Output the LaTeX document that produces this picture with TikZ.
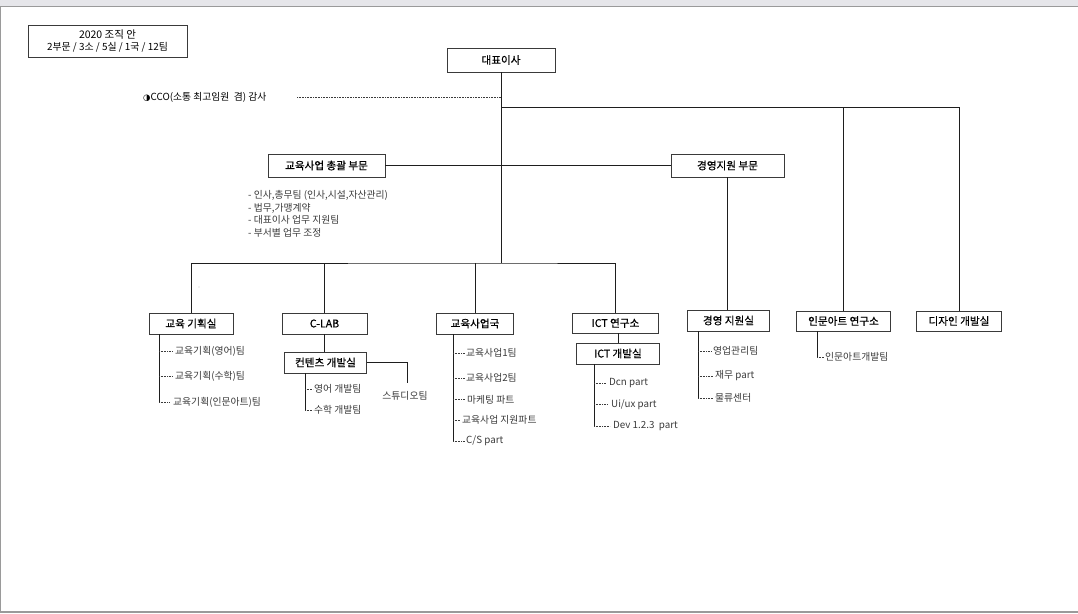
\documentclass[tikz,border=0pt]{standalone}
\usepackage{fontspec}
\setmainfont{Noto Sans CJK KR}
\newfontfamily\boxfnt[RawFeature={embolden=0.6}]{Noto Sans CJK KR}
\newfontfamily\symfnt{DejaVu Sans}
\newcommand\myfs{\fontsize{9.8}{11}\selectfont}
\newcommand\bxfs{\boxfnt\fontsize{10.6}{12}\selectfont}
\definecolor{boxc}{HTML}{3A3A3A}
\definecolor{linec}{HTML}{1E1E1E}
\definecolor{itemc}{HTML}{3A3A3A}
\definecolor{barc}{HTML}{E6E6EA}
\definecolor{framec}{HTML}{9A9A9A}
\begin{document}
\begin{tikzpicture}[x=1pt,y=-1pt,
  box/.style={draw=boxc, line width=0.8pt, inner sep=0pt, minimum height=21pt, font=\bxfs, text=black, fill=white},
  item/.style={anchor=west, inner sep=0pt, font=\myfs, text=itemc},
  conn/.style={draw=linec, line width=0.8pt},
  dots/.style={draw=itemc, line width=0.7pt, dash pattern=on 0.7pt off 0.9pt, shorten >=3pt}]
\useasboundingbox (0,0) rectangle (1078,613);
% frame
\fill[barc] (0,0) rectangle (1078,6);
\draw[framec, line width=1.2pt] (0,6.5) -- (1078,6.5);
\draw[framec, line width=1.2pt] (0.6,6) -- (0.6,613);
\draw[framec, line width=1.5pt] (0,611.8) -- (1078,611.8);

% top
\node[box, minimum width=159pt, minimum height=32pt, align=center, font=\fontsize{9.9}{12}\selectfont] (title) at (107.5,41) {{\fontsize{10.5}{12}\selectfont 2020 조직 안}\\2부문 / 3소 / 5실 / 1국 / 12팀};
\node[box, minimum width=108pt, minimum height=24pt] (ceo) at (501,60) {대표이사};
\node[item, text=black] (cco) at (143,97.5) {{\symfnt\fontsize{8.5}{9}\selectfont ◑}CCO(소통 최고임원\ \ 겸) 감사};
\coordinate (ccod) at (297,97);
\coordinate (j1) at (501,107);
\coordinate (j2) at (501,263);

\node[box, minimum width=117pt, minimum height=23pt] (edu) at (326.5,165.5) {교육사업 총괄 부문};
\node[box, minimum width=113pt, minimum height=23pt] (mgmt) at (727.5,165.5) {경영지원 부문};
\node[item, align=left, font=\fontsize{9.8}{12.6}\selectfont] (eduitems) at (248,214) {- 인사,총무팀 (인사,시설,자산관리)\\- 법무,가맹계약\\- 대표이사 업무 지원팀\\- 부서별 업무 조정};

% level 2 boxes
\node[box, minimum width=84pt] (plan) at (191,323.5) {교육 기획실};
\node[box, minimum width=85pt] (clab) at (324.5,323.5) {C-LAB};
\node[box, minimum width=77pt] (bureau) at (475,323.5) {교육사업국};
\node[box, minimum width=86pt, minimum height=20pt] (ictlab) at (615.5,323) {ICT 연구소};
\node[box, minimum width=82pt] (mgsup) at (728.5,320.5) {경영 지원실};
\node[box, minimum width=94pt, minimum height=20pt] (hum) at (843.5,321) {인문아트 연구소};
\node[box, minimum width=85pt, minimum height=20pt] (design) at (959,321) {디자인 개발실};
\node[box, minimum width=82pt] (content) at (325.5,362.5) {컨텐츠 개발실};
\node[box, minimum width=83pt] (ictdev) at (618,353.5) {ICT 개발실};

% main connectors
\draw[conn] (ceo.south) -- (j2);
\draw[dots, shorten >=0pt] (ccod) -- (ccod -| ceo.south);
\draw[conn] (j1) -| (design.north);
\draw[conn] (hum.north) -- (hum.north |- j1);
\draw[conn] (edu.east) -- (mgmt.west);
\draw[conn] (mgmt.south) -- (mgmt.south |- mgsup.north);
\draw[conn] (plan.north) |- (j2) -| (ictlab.north);
\draw[conn] (clab.north) -- (clab.north |- j2);
\draw[conn] (bureau.north) -- (bureau.north |- j2);
\draw[conn] (clab.south) -- (clab.south |- content.north);
\draw[conn] (ictlab.south -| ictdev.north) -- (ictdev.north);
\coordinate (stu) at (407,383);
\draw[conn] (content.east) -| (stu);
\node[item, anchor=center] (studio) at (405,396) {스튜디오팀};
\fill[gray!45] (199,287) circle (0.6);

% 교육 기획실 items
\coordinate (pl) at (159,334);
\node[item] (p1) at (175,351) {교육기획(영어)팀};
\node[item] (p2) at (175,376.5) {교육기획(수학)팀};
\node[item] (p3) at (173,402) {교육기획(인문아트)팀};
\draw[conn] (pl) -- (pl |- p3.west);
\foreach \n in {p1,p2,p3} \draw[dots] (pl |- \n.west) -- (\n.west);

% 컨텐츠 items
\coordinate (cl) at (305,373);
\node[item] (c1) at (314,389) {영어 개발팀};
\node[item] (c2) at (314,410) {수학 개발팀};
\draw[conn] (cl) -- (cl |- c2.west);
\foreach \n in {c1,c2} \draw[dots, shorten >=1pt] (cl |- \n.west) -- (\n.west);

% 교육사업국 items
\coordinate (bl) at (453,334);
\node[item] (b1) at (466,353) {교육사업1팀};
\node[item] (b2) at (466,378) {교육사업2팀};
\node[item] (b3) at (467,399.5) {마케팅 파트};
\node[item] (b4) at (462,420) {교육사업 지원파트};
\node[item] (b5) at (466,441) {C/S part};
\draw[conn] (bl) -- (bl |- b5.west);
\foreach \n in {b1,b2,b3,b4,b5} \draw[dots, shorten >=1.5pt] (bl |- \n.west) -- (\n.west);

% ICT 개발실 items
\coordinate (il) at (594,364);
\node[item] (i1) at (609,383) {Dcn part};
\node[item] (i2) at (611,404.5) {Ui/ux part};
\node[item] (i3) at (613,426) {Dev 1.2.3\ \ part};
\draw[conn] (il) -- (il |- i3.west);
\foreach \n in {i1,i2,i3} \draw[dots] (il |- \n.west) -- (\n.west);

% 경영 지원실 items
\coordinate (ml) at (698,331);
\node[item] (m1) at (713,351) {영업관리팀};
\node[item] (m2) at (715,376) {재무 part};
\node[item] (m3) at (715,398) {물류센터};
\draw[conn] (ml) -- (ml |- m3.west);
\foreach \n in {m1,m2,m3} \draw[dots, shorten >=1.5pt] (ml |- \n.west) -- (\n.west);

% 인문아트 연구소 items
\coordinate (hl) at (817,331);
\node[item] (h1) at (825,357) {인문아트개발팀};
\draw[conn] (hl) -- (hl |- h1.west);
\draw[dots, shorten >=1pt] (hl |- h1.west) -- (h1.west);
\end{tikzpicture}
\end{document}
